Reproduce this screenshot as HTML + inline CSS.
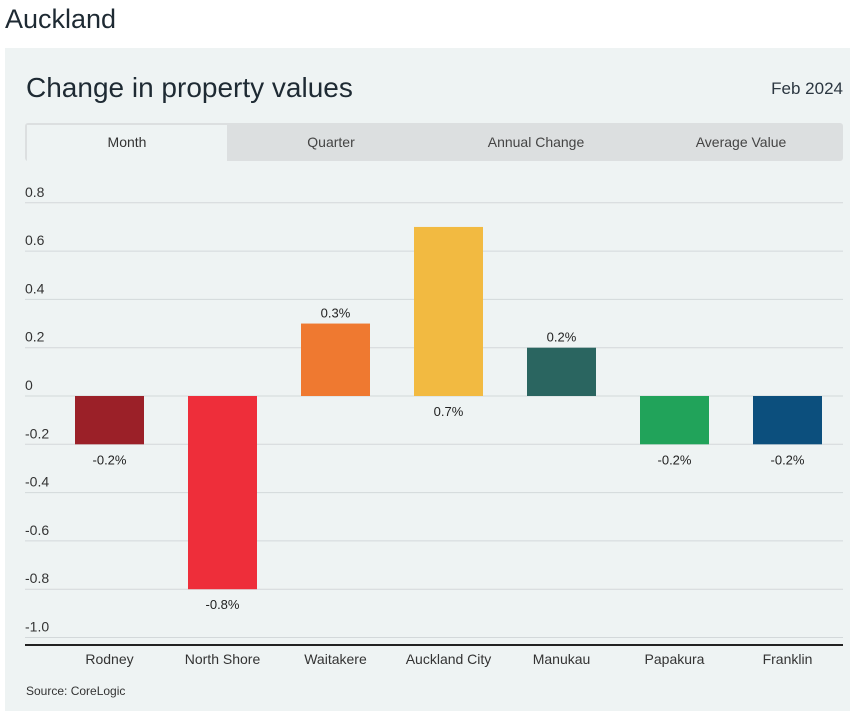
<!DOCTYPE html>
<html><head><meta charset="utf-8"><style>
body{margin:0;width:850px;height:711px;background:#fff;font-family:"Liberation Sans",sans-serif;position:relative;overflow:hidden}
.abs{position:absolute}
</style></head><body>
<div class="abs" style="left:5px;top:4px;font-size:27px;color:#1e2a33">Auckland</div>
<div class="abs" style="left:5px;top:48px;width:845px;height:663px;background:#eef3f3"></div>
<div class="abs" style="left:26px;top:72px;font-size:28px;color:#1e2a33">Change in property values</div>
<div class="abs" style="right:7px;top:79px;font-size:17px;color:#2b3640">Feb 2024</div>
<div class="abs" style="left:25px;top:123px;width:818px;height:38px;background:#dcdfe0;border-radius:3px"></div>
<div class="abs" style="left:27px;top:125px;width:200px;height:36px;background:#eef3f3;font-size:14px;color:#333;text-align:center;line-height:34px">Month</div>
<div class="abs" style="left:230px;top:125px;width:202px;height:36px;font-size:14px;color:#444;text-align:center;line-height:34px">Quarter</div>
<div class="abs" style="left:435px;top:125px;width:202px;height:36px;font-size:14px;color:#444;text-align:center;line-height:34px">Annual Change</div>
<div class="abs" style="left:640px;top:125px;width:202px;height:36px;font-size:14px;color:#444;text-align:center;line-height:34px">Average Value</div>
<svg class="abs" id="chart" style="left:0;top:0" width="850" height="711"></svg>
<div class="abs" style="left:26px;top:684px;font-size:12px;color:#333">Source: CoreLogic</div>
<script>
const categories=["Rodney","North Shore","Waitakere","Auckland City","Manukau","Papakura","Franklin"];
const values=[-0.2,-0.8,0.3,0.7,0.2,-0.2,-0.2];
const valueLabels=["-0.2%","-0.8%","0.3%","0.7%","0.2%","-0.2%","-0.2%"];
const colors=["#9b2028","#ee2e3a","#ef7930","#f2ba41","#2a6560","#21a35a","#0c4f7d"];
const yTicks=[0.8,0.6,0.4,0.2,0,-0.2,-0.4,-0.6,-0.8,-1.0];
const yTickLabels=["0.8","0.6","0.4","0.2","0","-0.2","-0.4","-0.6","-0.8","-1.0"];
const NS="http://www.w3.org/2000/svg";
const svg=document.getElementById('chart');
const y=v=>396-v*241.5;
const bandStart=53,band=113,barW=69;
const x=i=>bandStart+i*band+(band-barW)/2;
function mk(t,a){const e=document.createElementNS(NS,t);for(const k in a)e.setAttribute(k,a[k]);svg.appendChild(e);return e;}
yTicks.forEach((t,i)=>{
 const l=mk('line',{x1:25,x2:843,y1:y(t),y2:y(t),stroke:'#d3d8da','stroke-width':1});
 
 
 const tx=mk('text',{x:25,y:y(t)-6,'font-size':14,fill:'#333','font-family':'Liberation Sans'});
 tx.textContent=yTickLabels[i];
 
 
});
const ax=mk('line',{x1:25,x2:843,y1:645,y2:645,stroke:'#222','stroke-width':2});


categories.forEach((c,i)=>{
 const v=values[i];
 const top=Math.min(y(v),y(0)),h=Math.abs(y(v)-y(0));
 const r=mk('rect',{x:x(i),y:top,width:barW,height:h,fill:colors[i]});
 
 
 let ly;
 if(v<0) ly=y(v)+20; else if(y(v)<260) ly=y(0)+20; else ly=y(v)-6;
 const lt=mk('text',{x:x(i)+barW/2,y:ly,'font-size':13,fill:'#222','text-anchor':'middle','font-family':'Liberation Sans'});
 lt.textContent=valueLabels[i];
 
 
 const ct=mk('text',{x:x(i)+barW/2,y:664,'font-size':14,fill:'#333','text-anchor':'middle','font-family':'Liberation Sans'});
 ct.textContent=c;
 
 
});
</script>
</body></html>
